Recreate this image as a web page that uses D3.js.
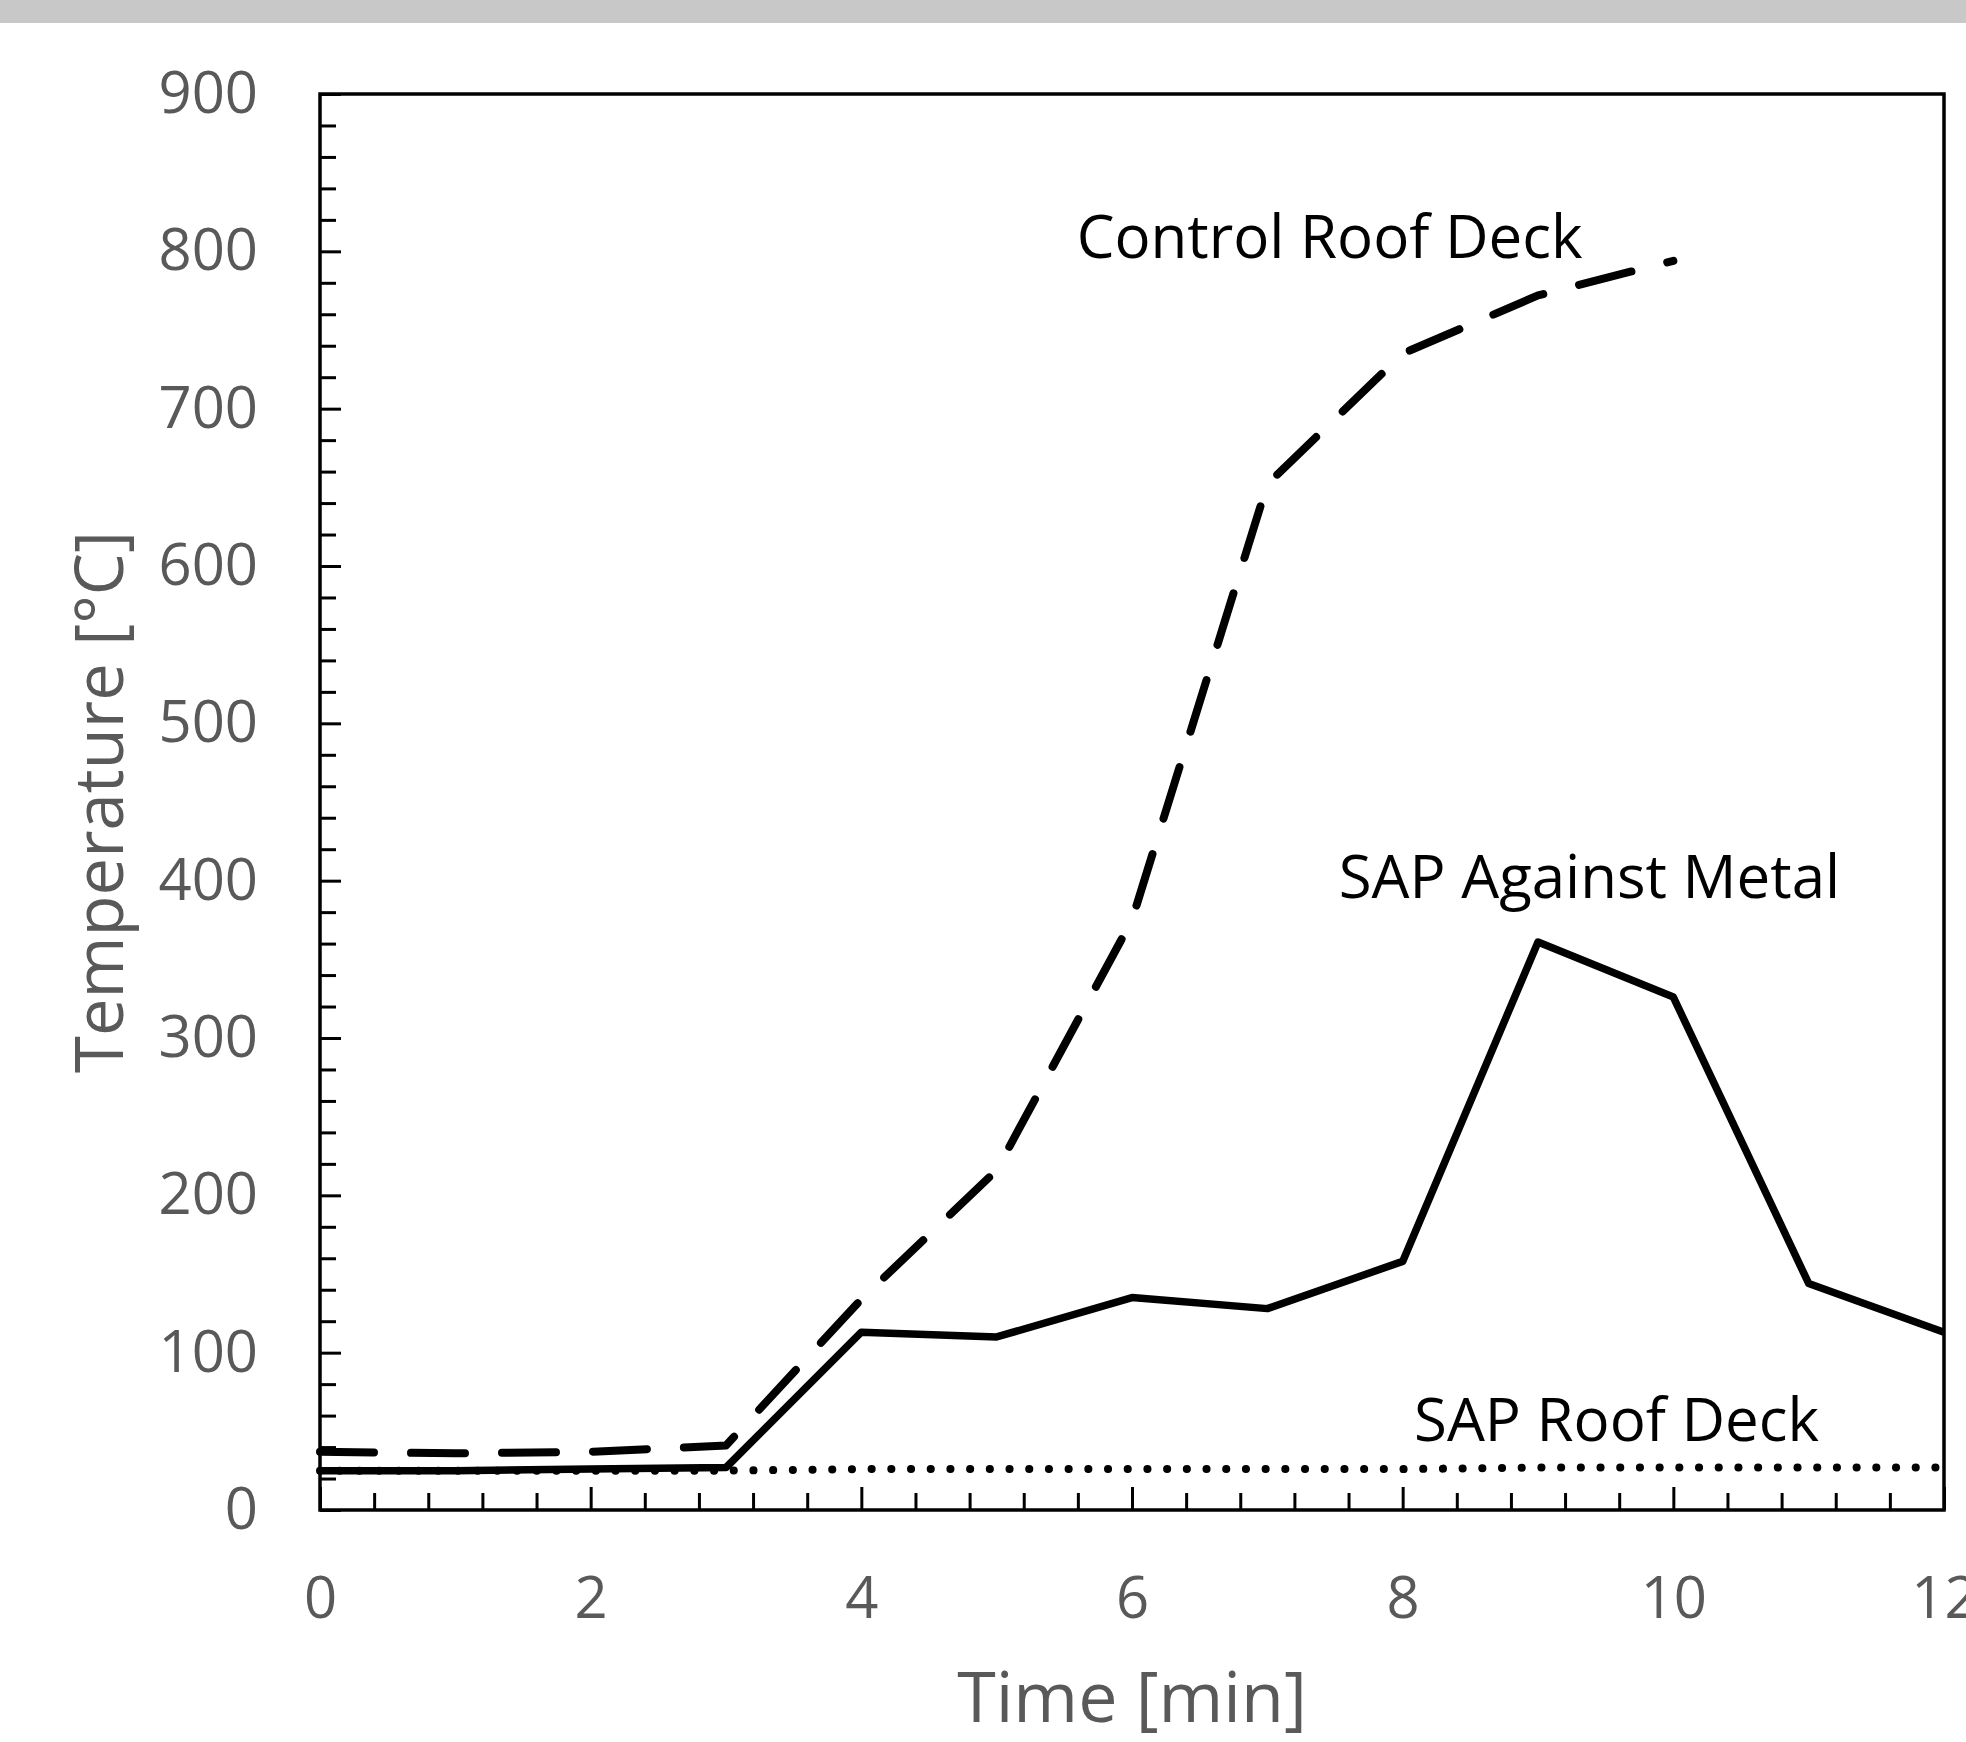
<!DOCTYPE html>
<html>
<head>
<meta charset="utf-8">
<script src="https://cdn.jsdelivr.net/npm/d3@7"></script>
<style>
  body { margin: 0; background: #fff; }
  svg { display: block; }
  text { font-family: "Open Sans", "Noto Sans", sans-serif; }
</style>
</head>
<body>
<svg id="chart"></svg>
<script>
// values
const time = [0, 1, 2, 3, 4, 5, 6, 7, 8, 9, 10, 11, 12];
const controlRoofDeck = [37, 36, 37, 41, 134, 216, 375, 652, 735, 772, 794];
const sapAgainstMetal = [25, 25, 26, 27, 113, 110, 135, 128, 158, 361, 326, 144, 113];
const sapRoofDeck = [25, 25, 25, 25, 26, 26, 26, 26, 26, 27, 27, 27, 27];

const xMajorTicks = [0, 2, 4, 6, 8, 10, 12];
const yMajorTicks = [0, 100, 200, 300, 400, 500, 600, 700, 800, 900];

const labels = [
  { text: "Control Roof Deck", x: 7.46, y: 796 },
  { text: "SAP Against Metal", x: 9.38, y: 389 },
  { text: "SAP Roof Deck", x: 9.58, y: 44 },
];

showChart();

function showChart() {
  let config = getConfig();
  let scales = getScales(config);

  drawAxes(scales, config);
  drawLines(scales, config);
  drawLabels(scales, config);
}

function getConfig() {
  let width = 1966;
  let height = 1742;
  let margin = { top: 94, bottom: 232, left: 320, right: 22 };

  let bodyWidth = width - margin.left - margin.right;
  let bodyHeight = height - margin.top - margin.bottom;

  let container = d3.select("#chart").attr("width", width).attr("height", height);

  // grey strip along the top edge
  container.append("rect")
    .attr("width", width)
    .attr("height", 23)
    .attr("fill", "#c8c8c8");

  let body = container.append("g")
    .attr("transform", `translate(${margin.left},${margin.top})`);

  return { width, height, margin, bodyWidth, bodyHeight, container, body };
}

function getScales({ bodyWidth, bodyHeight }) {
  let xScale = d3.scaleLinear().domain([0, 12]).range([0, bodyWidth]);
  let yScale = d3.scaleLinear().domain([0, 900]).range([bodyHeight, 0]);
  return { xScale, yScale };
}

function drawAxes({ xScale, yScale }, { body, bodyWidth, bodyHeight, margin }) {
  let xMinor = d3.range(0, 12.01, 0.4).filter((d) => Math.abs(d / 2 - Math.round(d / 2)) > 0.01);
  let yMinor = d3.range(0, 901, 20).filter((d) => d % 100 != 0);

  // minor and major ticks each get their own group, otherwise the second call replaces the first
  body.append("g")
    .attr("transform", `translate(0,${bodyHeight})`)
    .call(d3.axisBottom(xScale).tickValues(xMinor).tickSize(-17).tickFormat(""));
  body.append("g")
    .attr("transform", `translate(0,${bodyHeight})`)
    .call(d3.axisBottom(xScale).tickValues(xMajorTicks).tickSize(-23).tickPadding(67).tickFormat(d3.format("d")));

  body.append("g")
    .call(d3.axisLeft(yScale).tickValues(yMinor).tickSize(-16).tickFormat(""));
  body.append("g")
    .call(d3.axisLeft(yScale).tickValues(yMajorTicks).tickSize(-21).tickPadding(62).tickFormat(d3.format("d")));

  body.selectAll(".domain").remove();
  body.selectAll(".tick line").attr("stroke", "#000").attr("stroke-width", 3);
  body.selectAll(".tick text")
    .style("font-family", '"Open Sans", sans-serif')
    .attr("font-size", 58)
    .attr("fill", "#595959");

  // frame
  body.append("rect")
    .attr("width", bodyWidth)
    .attr("height", bodyHeight)
    .attr("fill", "none")
    .attr("stroke", "#000")
    .attr("stroke-width", 3.5);

  body.append("text")
    .attr("x", bodyWidth / 2)
    .attr("y", 1722 - margin.top)
    .attr("text-anchor", "middle")
    .attr("font-size", 70)
    .attr("fill", "#595959")
    .text("Time [min]");

  body.append("text")
    .attr("transform", `translate(${123 - margin.left},${bodyHeight / 2}) rotate(-90)`)
    .attr("text-anchor", "middle")
    .attr("font-size", 67)
    .attr("fill", "#595959")
    .text("Temperature [°C]");
}

function drawLines({ xScale, yScale }, { body }) {
  let line = d3.line()
    .x((d) => xScale(d[0]))
    .y((d) => yScale(d[1]));

  let series = [
    { values: sapRoofDeck, width: 8, dash: "0.1,19.6", cap: "round" },
    { values: sapAgainstMetal, width: 7.5, dash: null, cap: "butt" },
    { values: controlRoofDeck, width: 8, dash: "54,37", cap: "round" },
  ];

  body.selectAll(".series")
    .data(series)
    .enter()
    .append("path")
    .attr("class", "series")
    .attr("d", (s) => line(s.values.map((v, i) => [time[i], v])))
    .attr("fill", "none")
    .attr("stroke", "#000")
    .attr("stroke-width", (s) => s.width)
    .attr("stroke-dasharray", (s) => s.dash)
    .attr("stroke-linecap", (s) => s.cap)
    .attr("stroke-linejoin", "round");
}

function drawLabels({ xScale, yScale }, { body }) {
  body.selectAll(".label")
    .data(labels)
    .enter()
    .append("text")
    .attr("class", "label")
    .attr("x", (d) => xScale(d.x))
    .attr("y", (d) => yScale(d.y))
    .attr("text-anchor", "middle")
    .attr("font-size", 60)
    .attr("fill", "#000")
    .text((d) => d.text);
}
</script>
</body>
</html>
